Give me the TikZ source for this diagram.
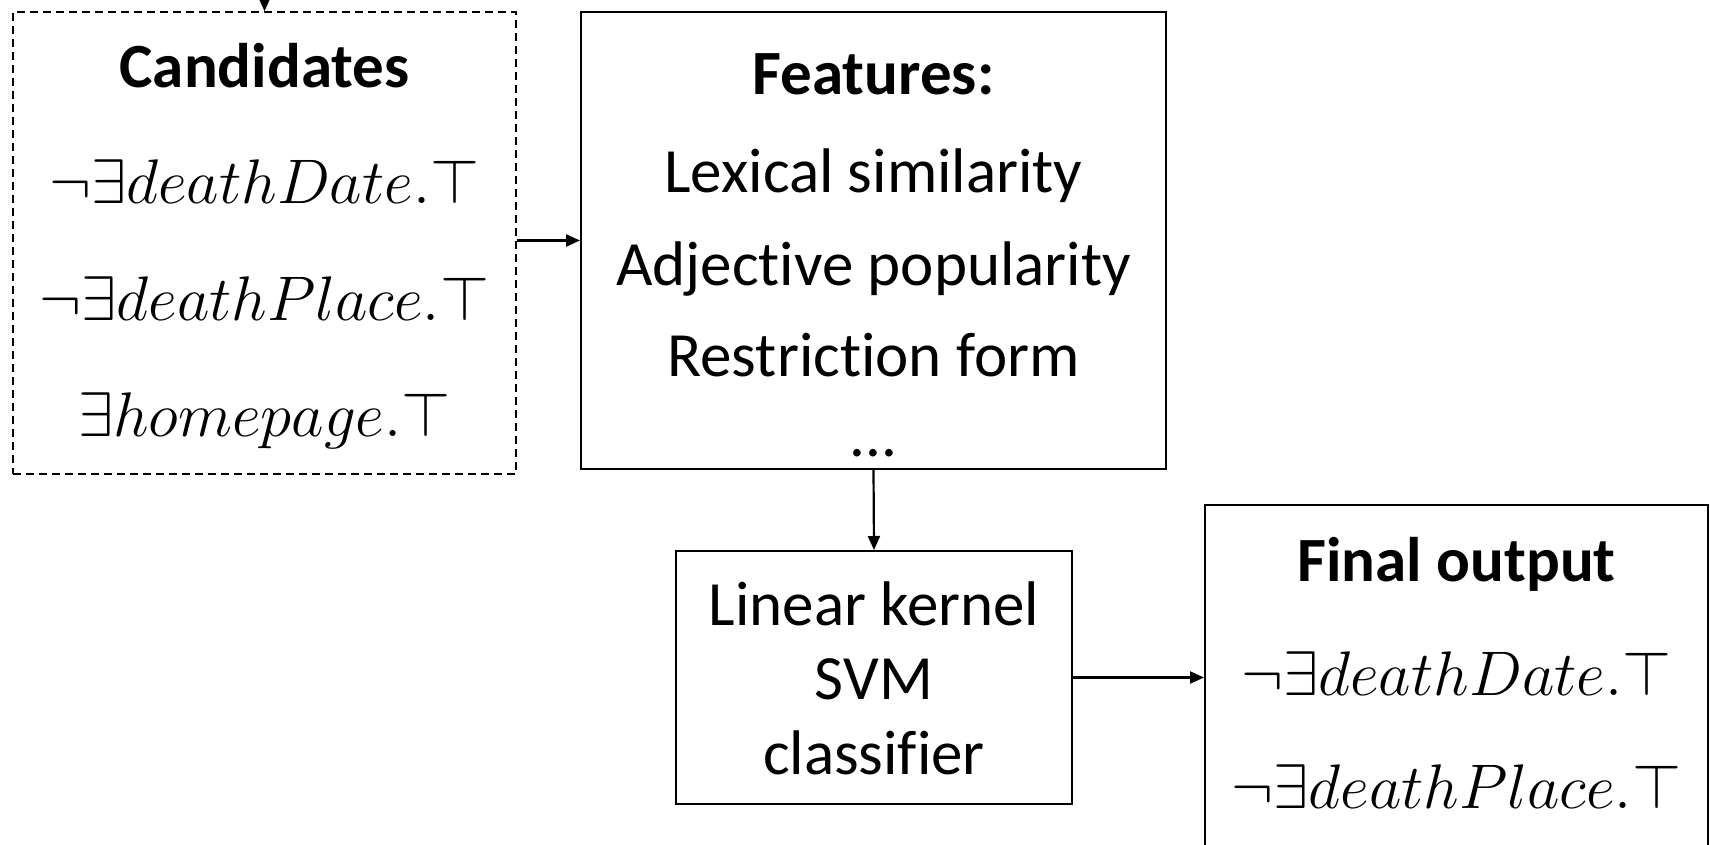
\RequirePackage{fix-cm}
\documentclass[tikz,border=0pt]{standalone}
\usepackage{fontspec}
\setmainfont{Carlito}[Ligatures=NoCommon]
\usetikzlibrary{arrows.meta}
\begin{document}
\begin{tikzpicture}[x=1pt,y=-1pt,
  box/.style={draw, line width=2pt, inner sep=0pt},
  dbox/.style={draw, line width=1.6pt, dash pattern=on 8pt off 5pt, inner sep=0pt},
  txt/.style={anchor=base, inner sep=0pt, font=\fontsize{63}{75}\selectfont},
  bold/.style={anchor=base, inner sep=0pt, font=\fontsize{63}{75}\selectfont\bfseries},
  arr/.style={line width=2.2pt, -{Triangle[length=14pt,width=12pt]}}
]
\useasboundingbox (0,0) rectangle (1710,845);

\node[dbox, minimum width=503pt, minimum height=462pt] (cand) at (264.5,243) {};
\node[box, minimum width=585pt, minimum height=457pt] (feat) at (873.5,240.5) {};
\node[box, minimum width=396pt, minimum height=253pt] (svm) at (874,677.5) {};
\node[box, minimum width=503pt, minimum height=395pt] (fin) at (1456.5,702.5) {};

\node[bold] (ct) at (264.5,88) {Candidates};
\node[txt] (c1) at (264.5,204) {$\neg\exists deathDate.\top$};
\node[txt] (c2) at (264.5,320) {$\neg\exists deathPlace.\top$};
\node[txt] (c3) at (264.5,436) {$\exists homepage.\top$};

\node[bold] (ft) at (873.5,95) {Features:};
\node[txt] (f1) at (873.5,193) {Lexical similarity};
\node[txt] (f2) at (873.5,285) {Adjective popularity};
\node[txt] (f3) at (873.5,376) {Restrict\kern0pt ion form};
\node[txt] (f4) at (873.5,456) {...};

\node[txt] (s1) at (874,625) {Linear kernel};
\node[txt] (s2) at (874,699) {SVM};
\node[txt] (s3) at (874,774) {classif\kern0pt ier};

\node[bold] (ot) at (1456.5,581) {Final output};
\node[txt] (o1) at (1456.5,695) {$\neg\exists deathDate.\top$};
\node[txt] (o2) at (1456.5,808) {$\neg\exists deathPlace.\top$};

\coordinate (topin) at (264.5,-2);
\draw[arr] (topin) -- (cand.north);
\draw[arr] (cand.east |- feat.west) -- (feat.west);
\draw[arr] (feat.south) -- (svm.north);
\draw[arr] (svm.east) -- (svm.east -| fin.west);
\end{tikzpicture}
\end{document}
